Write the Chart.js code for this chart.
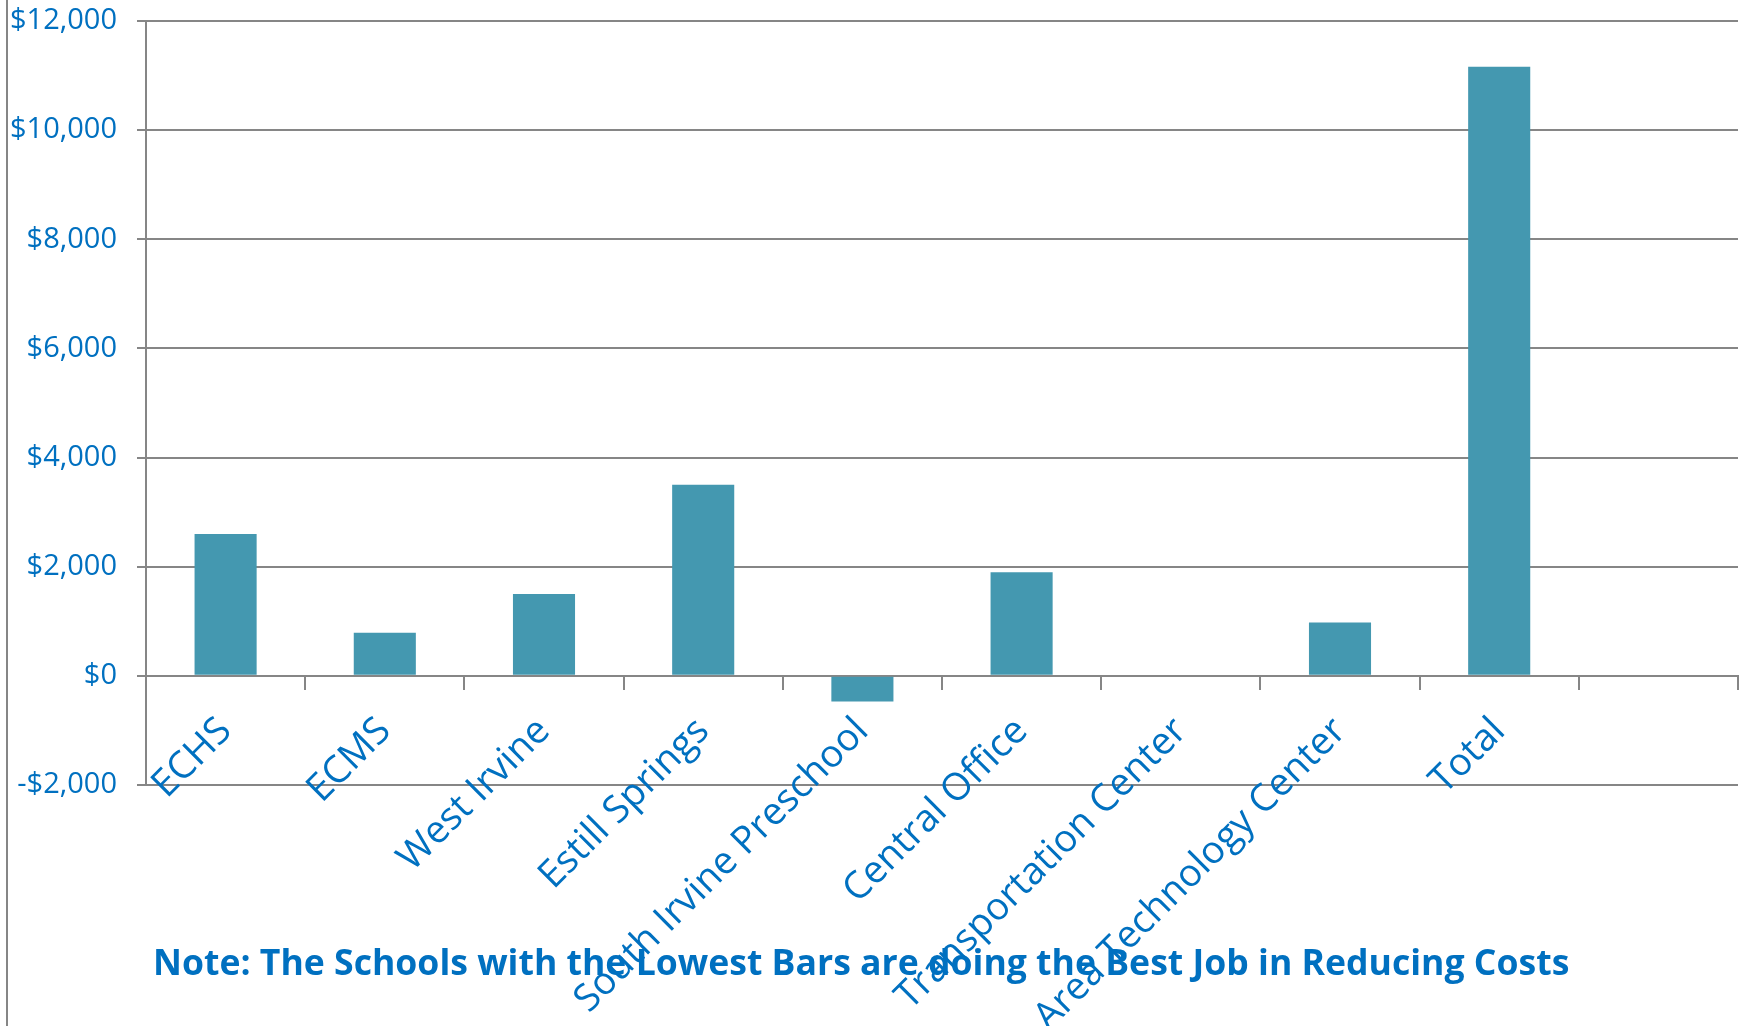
<!DOCTYPE html>
<html><head><meta charset="utf-8">
<script src="https://cdn.jsdelivr.net/npm/chart.js@4.4.1/dist/chart.umd.min.js"></script>
<style>html,body{margin:0;padding:0;background:#fff;overflow:hidden}canvas{display:block}</style>
</head><body>
<canvas id="c" width="1742" height="1026"></canvas>
<script>
const categories = ['ECHS', 'ECMS', 'West Irvine', 'Estill Springs', 'South Irvine Preschool', 'Central Office', 'Transportation Center', 'Area Technology Center', 'Total', ''];
const savings = [2600, 790, 1500, 3500, -470, 1900, 0, 980, 11160, null];
const yMin = -2000;
const yMax = 12000;
const yStep = 2000;
const noteText = 'Note: The Schools with the Lowest Bars are doing the Best Job in Reducing Costs';

const GRID = '#868686';
const BLUE = '#0070c0';
const BAR = '#4498b0';

function money(v) {
  const s = '$' + Math.abs(v).toLocaleString('en-US');
  return v < 0 ? '-' + s : s;
}

const decor = {
  id: 'decor',
  beforeDraw(chart) {
    const ctx = chart.ctx;
    ctx.save();
    ctx.strokeStyle = GRID;
    ctx.lineWidth = 2;
    ctx.beginPath();
    ctx.moveTo(7, 0);
    ctx.lineTo(7, chart.height);
    ctx.stroke();
    ctx.restore();
  },
  afterDraw(chart) {
    const ctx = chart.ctx;
    ctx.save();
    const targetW = 1417;
    ctx.font = 'bold 40px "Open Sans"';
    const w = ctx.measureText(noteText).width;
    const size = 40 * targetW / w;
    ctx.font = 'bold ' + size.toFixed(2) + 'px "Open Sans"';
    ctx.fillStyle = BLUE;
    ctx.textBaseline = 'middle';
    ctx.textAlign = 'left';
    ctx.fillText(noteText, 153, 965);
    ctx.restore();
  }
};

new Chart(document.getElementById('c'), {
  type: 'bar',
  data: {
    labels: categories,
    datasets: [{
      data: savings,
      backgroundColor: BAR,
      borderWidth: 0,
      barPercentage: 0.39,
      categoryPercentage: 1.0
    }]
  },
  options: {
    responsive: false,
    animation: false,
    devicePixelRatio: 1,
    layout: { padding: { left: 10, top: 21, right: 4, bottom: 241 } },
    plugins: { legend: { display: false }, tooltip: { enabled: false } },
    scales: {
      x: {
        position: { y: 0 },
        offset: true,
        grid: { display: true, offset: true, drawOnChartArea: false, drawTicks: true, tickLength: 13, color: GRID, lineWidth: 2 },
        border: { display: true, color: GRID, width: 2 },
        ticks: {
          autoSkip: false, minRotation: 45, maxRotation: 45, padding: 20,
          color: BLUE, font: { family: '"Open Sans"', size: 38 }
        },
        afterFit(s) { s.paddingLeft = 0; s.paddingRight = 0; }
      },
      y: {
        min: yMin, max: yMax,
        grid: { color: GRID, lineWidth: 2, tickLength: 9, drawTicks: true },
        border: { display: true, color: GRID, width: 2 },
        ticks: {
          stepSize: yStep, padding: 20, color: BLUE,
          font: { family: '"Open Sans"', size: 29 },
          callback: (v) => money(v)
        },
        afterFit(s) { s.width = 136; s.paddingTop = 0; s.paddingBottom = 0; }
      }
    }
  },
  plugins: [decor]
});
</script>
</body></html>
